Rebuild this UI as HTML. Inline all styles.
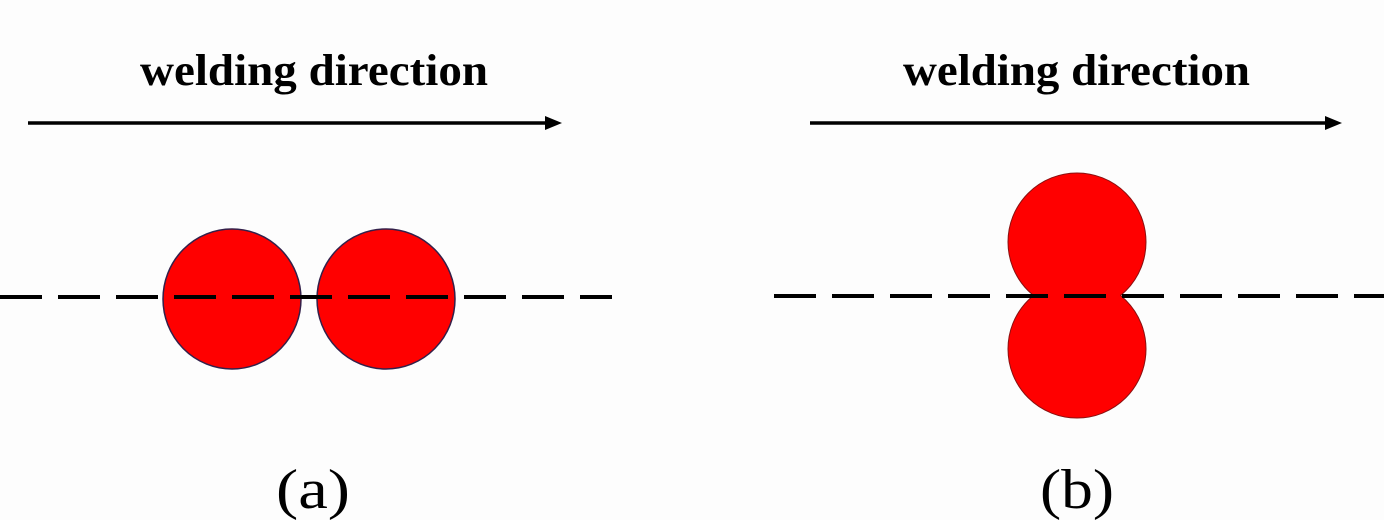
<!DOCTYPE html>
<html><head><style>
html,body{margin:0;padding:0;background:#fdfdfd;}
</style></head><body>
<svg width="1384" height="520" xmlns="http://www.w3.org/2000/svg" style="display:block">
<rect width="1384" height="520" fill="#fdfdfd"/>
<g font-family="Liberation Serif, serif" fill="#000">
<text x="140" y="85" font-size="44" font-weight="bold" textLength="348" lengthAdjust="spacingAndGlyphs">welding direction</text>
<text x="903" y="85" font-size="44" font-weight="bold" textLength="347" lengthAdjust="spacingAndGlyphs">welding direction</text>
<text x="276" y="508" font-size="56" textLength="74" lengthAdjust="spacingAndGlyphs">(a)</text>
<text x="1040" y="508" font-size="56" textLength="74" lengthAdjust="spacingAndGlyphs">(b)</text>
</g>
<line x1="28" y1="123" x2="548" y2="123" stroke="#000" stroke-width="3.5"/>
<polygon points="545,116 562,123 545,130" fill="#000"/>
<line x1="810" y1="123" x2="1328" y2="123" stroke="#000" stroke-width="3.5"/>
<polygon points="1325,116 1342,123 1325,130" fill="#000"/>
<ellipse cx="232" cy="299" rx="69" ry="70" fill="#f00" stroke="#33204a" stroke-width="1.5"/>
<ellipse cx="386" cy="299" rx="69" ry="70" fill="#f00" stroke="#33204a" stroke-width="1.5"/>
<line x1="0" y1="297" x2="612" y2="297" stroke="#000" stroke-width="4" stroke-dasharray="42 16"/>
<line x1="300" y1="297" x2="318" y2="297" stroke="#000" stroke-width="4"/>
<circle cx="1077" cy="242" r="69" fill="#f00" stroke="#8a1010" stroke-width="1"/>
<circle cx="1077" cy="349" r="69" fill="#f00" stroke="#8a1010" stroke-width="1"/>
<rect x="1034" y="260" width="86" height="60" fill="#f00"/>
<line x1="774" y1="296" x2="1384" y2="296" stroke="#000" stroke-width="4" stroke-dasharray="42 16"/>
</svg>
</body></html>
